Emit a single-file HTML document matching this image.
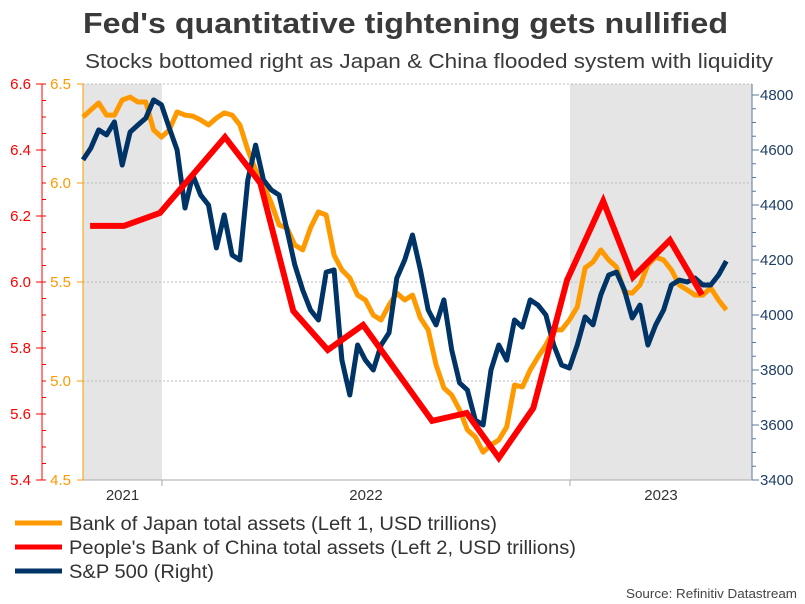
<!DOCTYPE html>
<html><head><meta charset="utf-8"><style>
body{margin:0;background:#fff;}
svg{display:block;font-family:"Liberation Sans",Arial,sans-serif;}
</style></head><body>
<svg id="chart" width="805" height="604" viewBox="0 0 805 604">
<text x="83" y="33" font-size="29" font-weight="bold" fill="#3a3a3a" textLength="645" lengthAdjust="spacingAndGlyphs">Fed's quantitative tightening gets nullified</text>
<text x="85" y="68" font-size="20" fill="#3a3a3a" textLength="688" lengthAdjust="spacingAndGlyphs">Stocks bottomed right as Japan &amp; China flooded system with liquidity</text>
<g id="bands"></g><g id="grid"></g><g id="axes"></g><g id="series"></g>
<g>
<line x1="15" y1="523" x2="62" y2="523" stroke="#FF9900" stroke-width="5"/>
<text x="69" y="530" font-size="19" fill="#333" textLength="428" lengthAdjust="spacingAndGlyphs">Bank of Japan total assets (Left 1, USD trillions)</text>
<line x1="15" y1="547" x2="62" y2="547" stroke="#FF0000" stroke-width="5"/>
<text x="69" y="554" font-size="19" fill="#333" textLength="507" lengthAdjust="spacingAndGlyphs">People's Bank of China total assets (Left 2, USD trillions)</text>
<line x1="15" y1="571" x2="62" y2="571" stroke="#003366" stroke-width="5"/>
<text x="69" y="578" font-size="19" fill="#333" textLength="145" lengthAdjust="spacingAndGlyphs">S&amp;P 500 (Right)</text>
</g>
<text x="626" y="598" font-size="13" fill="#444" textLength="171" lengthAdjust="spacingAndGlyphs">Source: Refinitiv Datastream</text>
</svg>
<script>
const yearLabels=["2021","2022","2023"];
const yearStarts=[10.07,62.07];
const redTicks=[5.4,5.6,5.8,6.0,6.2,6.4,6.6];
const orangeTicks=[4.5,5.0,5.5,6.0,6.5];
const rightTicks=[3400,3600,3800,4000,4200,4400,4600,4800];
const bojValues=[6.333,6.369,6.404,6.343,6.343,6.419,6.434,6.409,6.409,6.268,6.232,6.268,6.359,6.343,6.338,6.318,6.293,6.328,6.354,6.343,6.293,6.167,6.066,5.990,5.899,5.788,5.773,5.687,5.662,5.773,5.854,5.838,5.636,5.561,5.520,5.434,5.409,5.333,5.308,5.384,5.444,5.409,5.434,5.318,5.258,5.081,4.965,4.929,4.854,4.753,4.717,4.641,4.677,4.702,4.768,4.980,4.970,5.056,5.121,5.182,5.258,5.258,5.308,5.374,5.571,5.601,5.662,5.611,5.576,5.449,5.444,5.485,5.586,5.626,5.611,5.561,5.485,5.460,5.434,5.434,5.470,5.409,5.359];
const spValues=[4564,4607,4673,4655,4702,4545,4665,4691,4716,4782,4764,4680,4600,4389,4509,4436,4400,4244,4364,4218,4200,4491,4618,4491,4455,4436,4309,4182,4091,4018,3982,4156,4164,3836,3709,3891,3836,3800,3891,3935,4134,4200,4291,4164,4018,3964,4055,3873,3753,3727,3618,3600,3800,3891,3836,3982,3956,4055,4036,4000,3891,3818,3807,3891,3993,3964,4073,4145,4156,4091,3989,4036,3891,3964,4018,4109,4127,4120,4134,4109,4109,4145,4196];
const pbocWeeks=[0.9,5.2,9.8,18.1,22.6,26.8,31.2,35.7,44.5,48.9,53.0,57.4,61.7,66.3,70.1,74.8,78.9];
const pbocValues=[6.170,6.170,6.209,6.439,6.300,5.912,5.794,5.870,5.579,5.603,5.467,5.618,6.006,6.245,6.015,6.127,5.961];

const NS="http://www.w3.org/2000/svg";
const L=83,R=752,T=84,B=480,WMAX=85.27;
const x=w=>L+(w/WMAX)*(R-L);
const yRed=v=>B-(v-5.4)/(6.6-5.4)*(B-T);
const yOr=v=>B-(v-4.5)/(6.5-4.5)*(B-T);
const ySp=v=>B-(v-3400)/(4800-3400)*385;
function mk(tag,attrs,parent){const e=document.createElementNS(NS,tag);for(const k in attrs)e.setAttribute(k,attrs[k]);parent.appendChild(e);return e;}
const bands=document.getElementById('bands'),grid=document.getElementById('grid'),axes=document.getElementById('axes'),series=document.getElementById('series');

let b1=mk('rect',{x:L,y:T,width:x(yearStarts[0])-L,height:B-T,fill:'#e5e5e5'},bands);


let b2=mk('rect',{x:x(yearStarts[1]),y:T,width:R-x(yearStarts[1]),height:B-T,fill:'#e5e5e5'},bands);



orangeTicks.forEach(v=>{if(v>4.5){let g=mk('line',{x1:L,x2:R,y1:yOr(v),y2:yOr(v),stroke:'#bbb','stroke-dasharray':'2,2'},grid);

}});

let ra=mk('line',{x1:42,x2:42,y1:T,y2:B,stroke:'#FF0000'},axes);


for(let v=5.4;v<=6.601;v+=0.05){mk('line',{x1:42,x2:46,y1:yRed(v),y2:yRed(v),stroke:'#FF0000'},axes);}
redTicks.forEach(v=>{mk('line',{x1:36,x2:42,y1:yRed(v),y2:yRed(v),stroke:'#FF0000'},axes);
let t=mk('text',{x:31,y:yRed(v)+5,'text-anchor':'end','font-size':15,fill:'#FF0000'},axes);t.textContent=v.toFixed(1);

});
let oa=mk('line',{x1:L,x2:L,y1:T,y2:B,stroke:'#FF9900'},axes);


orangeTicks.forEach(v=>{mk('line',{x1:77,x2:L,y1:yOr(v),y2:yOr(v),stroke:'#FF9900'},axes);
let t=mk('text',{x:71,y:yOr(v)+5,'text-anchor':'end','font-size':15,fill:'#FF9900'},axes);t.textContent=v.toFixed(1);

});
let rax=mk('line',{x1:R,x2:R,y1:T,y2:B,stroke:'#5a7a9a'},axes);


for(let v=3400;v<=4800;v+=50){mk('line',{x1:R,x2:R+4,y1:ySp(v),y2:ySp(v),stroke:'#5a7a9a'},axes);}
rightTicks.forEach(v=>{mk('line',{x1:R,x2:R+7,y1:ySp(v),y2:ySp(v),stroke:'#5a7a9a'},axes);
let t=mk('text',{x:760,y:ySp(v)+5,'font-size':15,fill:'#1f3f66'},axes);t.textContent=v;

});
let xa=mk('line',{x1:L,x2:R,y1:B,y2:B,stroke:'#aaa'},axes);


yearStarts.forEach(w=>{mk('line',{x1:x(w),x2:x(w),y1:B,y2:B+6,stroke:'#aaa'},axes);});
const bounds=[0,...yearStarts,WMAX];
yearLabels.forEach((lab,i)=>{let t=mk('text',{x:(x(bounds[i])+x(bounds[i+1]))/2,y:B+20,'text-anchor':'middle','font-size':15,fill:'#333'},axes);t.textContent=lab;

});

function path(ws,vs,ys){return vs.map((v,i)=>(i?'L':'M')+x(ws[i]).toFixed(1)+','+ys(v).toFixed(1)).join('');}
const idx=bojValues.map((_,i)=>i);
let po=mk('path',{d:path(idx,bojValues,yOr),fill:'none',stroke:'#FF9900','stroke-width':5,'stroke-linejoin':'round'},series);


let ps=mk('path',{d:path(spValues.map((_,i)=>i),spValues,ySp),fill:'none',stroke:'#003366','stroke-width':5,'stroke-linejoin':'round'},series);


let pr=mk('path',{d:path(pbocWeeks,pbocValues,yRed),fill:'none',stroke:'#FF0000','stroke-width':6,'stroke-linejoin':'miter'},series);


</script>
</body></html>
